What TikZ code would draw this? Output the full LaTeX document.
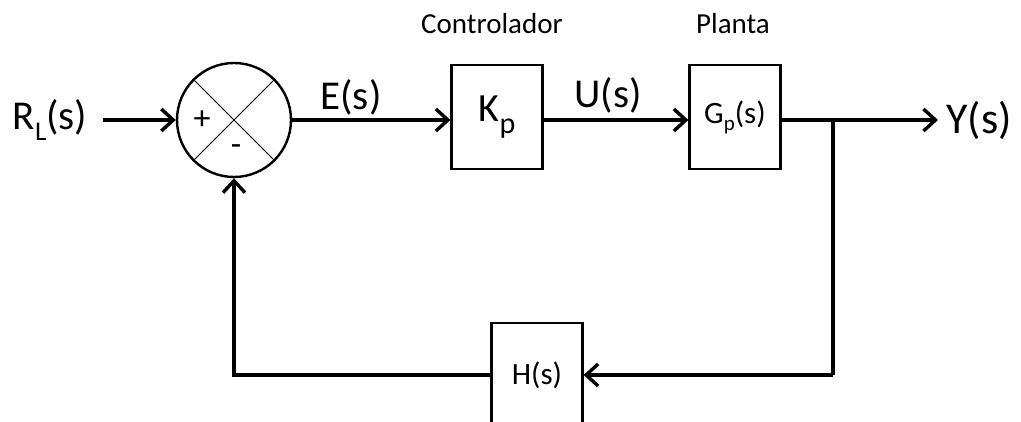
\documentclass[tikz,border=0pt]{standalone}
\usepackage{fontspec}
\setmainfont{Carlito}
\usetikzlibrary{arrows.meta,positioning}

\tikzset{
  block/.style={draw,line width=2.2pt,minimum width=91pt,minimum height=104pt,
                inner sep=0pt,font=\fontsize{31}{33}\selectfont},
  sig/.style={line width=3.6pt,-{Straight Barb[length=12pt,width=22pt,line width=3.4pt]}},
  wire/.style={line width=3.6pt},
  biglabel/.style={font=\fontsize{41}{43}\selectfont,inner sep=0pt},
  smalllabel/.style={font=\fontsize{29}{31}\selectfont,inner sep=0pt}
}

\begin{document}
\begin{tikzpicture}[x=1pt,y=-1pt]
  \useasboundingbox (0,0) rectangle (1021,422);
  % input and summing junction
  \node[biglabel] (ref) at (50,120) {R\raisebox{-0.28em}{\fontsize{27}{27}\selectfont L}(s)};
  \node[circle,draw,line width=2.4pt,minimum size=114pt,inner sep=0pt] (sum) at (234,120) {};
  \draw[line width=0.8pt] (sum.north west) -- (sum.south east);
  \draw[line width=0.8pt] (sum.north east) -- (sum.south west);
  \node[font=\fontsize{34}{34}\selectfont,inner sep=0pt] (plus) at (202,120) {+};
  \node[font=\fontsize{34}{34}\selectfont,inner sep=0pt] (minus) at (236,150) {-};
  % forward path
  \node[block] (kp) at (497,117) {\fontsize{40}{40}\selectfont K\raisebox{-0.3em}{\fontsize{30}{30}\selectfont p}};
  \node[block] (gp) at (735,117) {G\raisebox{-0.22em}{\fontsize{21}{21}\selectfont p}(s)};
  \node[smalllabel] (ctrl) at (492,24) {Controlador};
  \node[smalllabel] (plant) at (733,24) {Planta};
  \node[biglabel] (err) at (351,97) {E(s)};
  \node[biglabel] (act) at (608,95) {U(s)};
  \node[font=\fontsize{44}{46}\selectfont,inner sep=0pt] (out) at (979,120) {Y(s)};
  \coordinate (tip) at (938,120);
  \coordinate (branch) at (833,120);
  \coordinate (fb) at (833,375);
  \node[block] (h) at (537,375) {H(s)};
  \draw[sig] (103,120) -- (sum.west);
  \draw[sig] (sum.east) -- (sum.east -| kp.west);
  \draw[sig] (kp.east |- sum.east) -- (gp.west |- sum.east);
  \draw[sig] (gp.east |- sum.east) -- (tip);
  % feedback path
  \draw[wire] (branch) -- (fb);
  \draw[sig] (fb) -- (h.east |- fb);
  \draw[sig] (h.west |- fb) -| (sum.south);
\end{tikzpicture}
\end{document}
